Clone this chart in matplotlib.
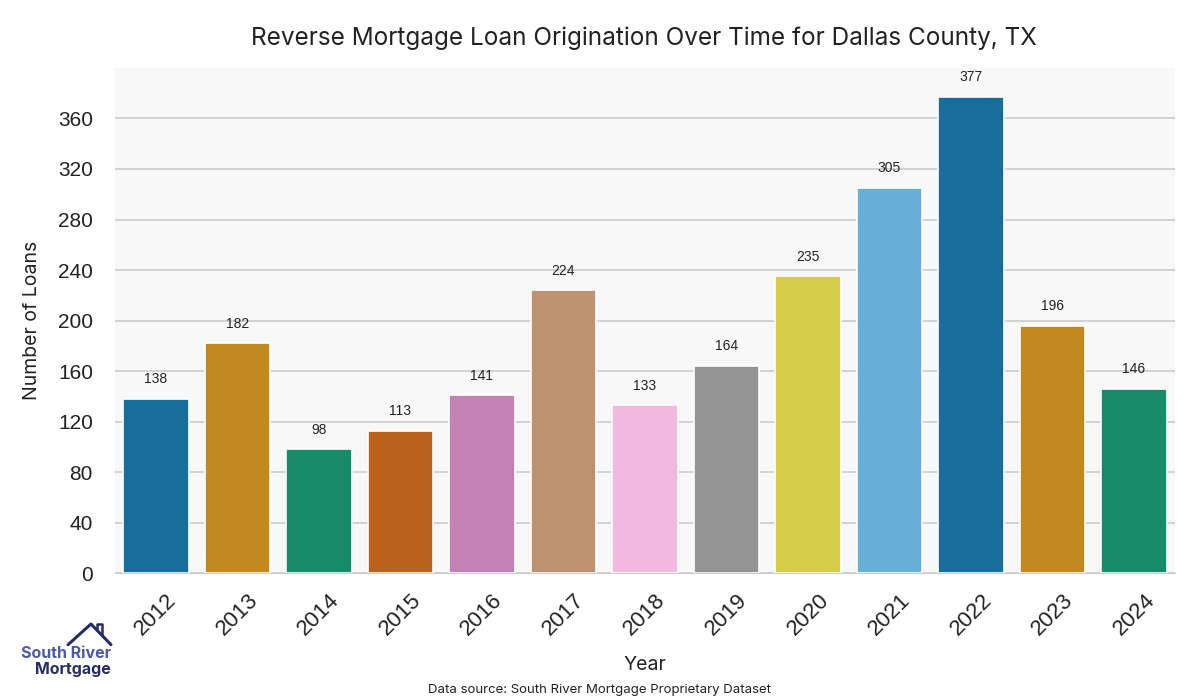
import matplotlib
matplotlib.use("Agg")
import matplotlib.pyplot as plt
import seaborn as sns
import pandas as pd

years = ["2012", "2013", "2014", "2015", "2016", "2017", "2018",
         "2019", "2020", "2021", "2022", "2023", "2024"]
loans = [138, 182, 98, 113, 141, 224, 133, 164, 235, 305, 377, 196, 146]

df = pd.DataFrame({"Year": years, "Loans": loans})

sns.set_style("whitegrid")
plt.rcParams["font.family"] = ["Liberation Sans", "DejaVu Sans"]
label_font = ["Inter", "DejaVu Sans"]

fig = plt.figure(figsize=(12, 7), dpi=100)
ax = fig.add_axes([0.096, 0.181, 0.883, 0.722])
ax.set_facecolor("#f8f8f8")

palette = sns.color_palette("colorblind", 10)
colors = [palette[i % 10] for i in range(len(years))]
sns.barplot(data=df, x="Year", y="Loans", hue="Year", palette=colors,
            legend=False, edgecolor="white", linewidth=1.2, ax=ax)

for i, v in enumerate(loans):
    ax.text(i, v + 10, str(v), ha="center", va="bottom", fontsize=10, color="#222222")

ax.set_ylim(0, 400)
ax.set_yticks(range(0, 361, 40))
ax.yaxis.grid(True, color="#cccccc", linewidth=1.2)
ax.xaxis.grid(False)
for s in ["top", "right", "left"]:
    ax.spines[s].set_visible(False)
ax.spines["bottom"].set_color("#cccccc")
ax.tick_params(axis="x", labelsize=16, rotation=45, colors="#222222", pad=8)
ax.tick_params(axis="y", labelsize=15, colors="#222222", length=0, pad=16)
for lbl in ax.get_xticklabels():
    lbl.set_ha("center")

ax.set_xlabel("Year", fontsize=14, family=label_font, color="#222222", labelpad=12)
ax.set_ylabel("Number of Loans", fontsize=14, family=label_font, color="#222222", labelpad=12)

fig.text(0.537, 0.945, "Reverse Mortgage Loan Origination Over Time for Dallas County, TX",
         ha="center", va="center", fontsize=17.5, family=label_font, color="#222222")
fig.text(0.5, 0.015, "Data source: South River Mortgage Proprietary Dataset",
         ha="center", va="center", fontsize=9.5, family=label_font, color="#222222")

# logo
fig.text(0.055, 0.067, "South River", ha="center", va="center", fontsize=11.5,
         fontweight="bold", color="#4a5aa8", family=label_font)
fig.text(0.061, 0.043, "Mortgage", ha="center", va="center", fontsize=11.5,
         fontweight="bold", color="#252e60", family=label_font)
fig.add_artist(plt.Line2D([0.0567, 0.0758, 0.0925], [0.079, 0.1086, 0.079],
                          color="#252e60", linewidth=2.2, transform=fig.transFigure))
fig.add_artist(plt.Line2D([0.0808, 0.0808, 0.085, 0.085], [0.1, 0.1086, 0.1086, 0.093],
                          color="#252e60", linewidth=1.8, transform=fig.transFigure))

fig.savefig("out.png", dpi=100)
